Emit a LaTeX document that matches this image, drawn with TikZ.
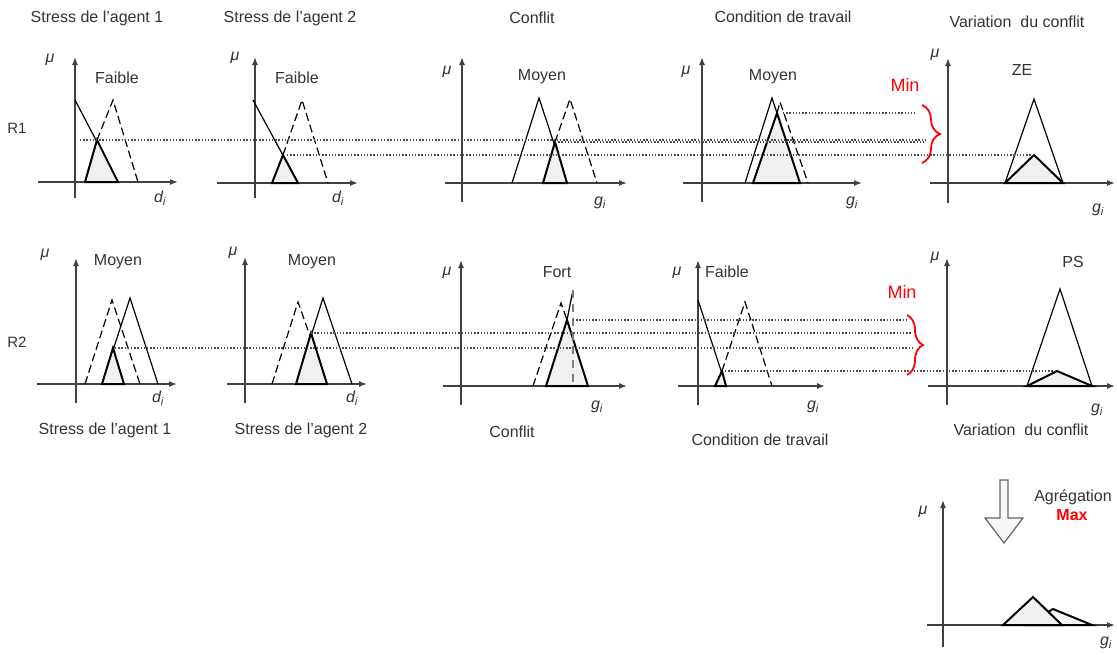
\documentclass[tikz,border=0pt]{standalone}
\usepackage{fontspec}
\setmainfont{Liberation Sans}
\usetikzlibrary{arrows.meta,decorations.pathreplacing}

\begin{document}
\begin{tikzpicture}[x=1pt, y=-1pt,
    axis/.style={draw=black!75, line width=1.5pt, -{Latex[length=8pt,width=6pt]}},
    mf/.style={draw=black, line width=1.2pt},
    inmf/.style={draw=black, line width=1.2pt, dash pattern=on 8pt off 4pt},
    cut/.style={draw=black, line width=2pt, fill=gray!12},
    level/.style={draw=black!70, line width=1.4pt, dash pattern=on 1.4pt off 1.8pt},
    title/.style={font=\fontsize{16}{18}\selectfont, text=black!80},
    fuzzyset/.style={font=\fontsize{16}{18}\selectfont, text=black!80},
    varlbl/.style={font=\fontsize{16}{18}\selectfont\itshape, text=black!80},
    rule/.style={font=\fontsize{15}{17}\selectfont, text=black!80},
    minlbl/.style={font=\fontsize{18}{20}\selectfont, text=red},
    minbrace/.style={draw=red, line width=1.8pt, decorate, decoration={brace, amplitude=#1}},
    hollow/.style={draw=black!60, line width=1.2pt, fill=gray!6}
]
\useasboundingbox (0,0) rectangle (1117,654);

% axes: y-axis x, y top, y bottom, x-axis y, x left, x right
\foreach \ax/\yt/\yb/\ay/\xl/\xr in {75/57/198/182/38/178, 255/57/198/183/217/358,
    462/57/202/183/445/627, 702/57/202/183/683/862, 948/58/203/183/930/1115,
    76/258/403/384/37/177, 245/257/403/384/227/367, 461/260/405/386/443/627,
    698/260/405/386/678/825, 947/258/405/386/928/1115, 943/500/647/625/927/1115}{
  \draw[axis] (\ax,\yb) -- (\ax,\yt);
  \draw[axis] (\xl,\ay) -- (\xr,\ay);
}

% titles
\node[title] (t11) at (97,18) {Stress de l’agent 1};
\node[title] (t12) at (290,18) {Stress de l’agent 2};
\node[title] (t13) at (532,18) {Conflit};
\node[title] (t14) at (783,17) {Condition de travail};
\node[title] (t15) at (1017,22) {Variation~ du conflit};
\node[title] (t21) at (105,430) {Stress de l’agent 1};
\node[title] (t22) at (301,430) {Stress de l’agent 2};
\node[title] (t23) at (512,432) {Conflit};
\node[title] (t24) at (760,440) {Condition de travail};
\node[title] (t25) at (1021,430) {Variation~ du conflit};
\node[rule] (r1) at (17,128) {R1};
\node[rule] (r2) at (17,342) {R2};

% axis labels
\foreach \mx/\my in {50/60, 235/58, 447/72, 686/72, 935/55, 45/255, 233/253, 447/273, 677/273, 935/258, 923/512}
  \node[varlbl] at (\mx,\my) {μ};
\foreach \vx/\vy/\v in {160/198/d, 338/198/d, 600/203/g, 852/203/g, 1098/210/g,
    158/398/d, 352/398/d, 597/407/g, 813/407/g, 1097/410/g, 1106/643/g}
  \node[varlbl] at (\vx,\vy) {\v\textsubscript{i}};

% set names
\node[fuzzyset] (f11) at (117,78) {Faible};
\node[fuzzyset] (f12) at (297,78) {Faible};
\node[fuzzyset] (f13) at (542,77) {Moyen};
\node[fuzzyset] (f14) at (773,77) {Moyen};
\node[fuzzyset] (f15) at (1022,70) {ZE};
\node[fuzzyset] (f21) at (118,262) {Moyen};
\node[fuzzyset] (f22) at (312,262) {Moyen};
\node[fuzzyset] (f23) at (557,272) {Fort};
\node[fuzzyset] (f24) at (727,272) {Faible};
\node[fuzzyset] (f25) at (1073,262) {PS};

% rule R1
\draw[mf] (75,100) -- (118,182);
\draw[inmf] (97,140) -- (113,100) -- (138,182);
\draw[cut] (85,182) -- (97,140) coordinate (s1a) -- (118,182) -- cycle;
\draw[mf] (253,100) -- (298,183);
\draw[inmf] (283,155) -- (302,100) -- (328,183);
\draw[cut] (272,183) -- (283,155) coordinate (s2a) -- (298,183) -- cycle;
\draw[mf] (512,183) -- (539,98) -- (567,183);
\draw[inmf] (555,142) -- (570,99) -- (597,183);
\draw[cut] (543,183) -- (555,142) coordinate (cfa) -- (567,183) -- cycle;
\draw[mf] (745,183) -- (772,98) -- (777,113);
\draw[inmf] (777,113) -- (780,102) -- (808,183);
\draw[cut] (753,183) -- (777,113) coordinate (cta) -- (800,183) -- cycle;
\draw[mf] (1005,183) -- (1034,99) -- (1063,183);
\draw[cut] (1005,183) -- (1034,155) coordinate (ze) -- (1063,183) -- cycle;

% rule R2
\draw[inmf] (85,384) -- (112,300) -- (140,384);
\draw[mf] (102,384) -- (130,298) -- (158,384);
\draw[cut] (102,384) -- (113,348) coordinate (s1b) -- (124,384) -- cycle;
\draw[inmf] (272,384) -- (298,302) -- (327,384);
\draw[mf] (296,384) -- (323,298) -- (352,384);
\draw[cut] (296,384) -- (311,333) coordinate (s2b) -- (327,384) -- cycle;
\draw[inmf] (533,386) -- (561,303) -- (567,320);
\draw[cut] (546,386) -- (567,320) coordinate (cfb) -- (588,386) -- cycle;
\draw[mf] (567,320) -- (573,290);
\draw[draw=gray, line width=1.5pt, dash pattern=on 8pt off 6pt] (573,290) -- (573,382);
\draw[mf] (698,300) -- (726,386);
\draw[inmf] (722,371) -- (745,302) -- (772,386);
\draw[cut] (715,386) -- (722,371) coordinate (ctb) -- (726,386) -- cycle;
\draw[mf] (1027,386) -- (1060,289) -- (1092,386);
\draw[cut] (1027,386) -- (1057,371) coordinate (ps) -- (1092,386) -- cycle;

% alpha levels
\draw[level] (s1a -| 80,0) -- (s1a -| 925,0);
\draw[level] (cfa) -- (cfa -| 925,0);
\draw[level] (s2a -| 287,0) -- (ze);
\draw[level] (cta -| 783,0) -- (cta -| 915,0);
\draw[level] (s1b -| 115,0) -- (s1b -| 913,0);
\draw[level] (s2b) -- (s2b -| 912,0);
\draw[level] (cfb -| 573,0) -- (cfb -| 907,0);
\draw[level] (ctb -| 725,0) -- (ps);

% min
\node[minlbl] (min1) at (905,85) {Min};
\draw[minbrace=18] (922,105) -- (922,163);
\node[minlbl] (min2) at (902,292) {Min};
\draw[minbrace=16] (907,315) -- (907,375);

% aggregation
\draw[hollow] (1000,480) -- (1008,480) -- (1008,518) -- (1023,518) -- (1004,543)
  -- (985,518) -- (1000,518) -- cycle;
\node[fuzzyset] (agg) at (1073,497) {Agrégation};
\node[fuzzyset, text=red, font=\fontsize{16}{18}\selectfont\bfseries] (max) at (1072,515) {Max};
\draw[cut, fill=gray!5] (1027,625) -- (1053,609) -- (1092,625) -- cycle;
\draw[cut] (1003,625) -- (1033,597) -- (1062,625) -- cycle;
\end{tikzpicture}
\end{document}
